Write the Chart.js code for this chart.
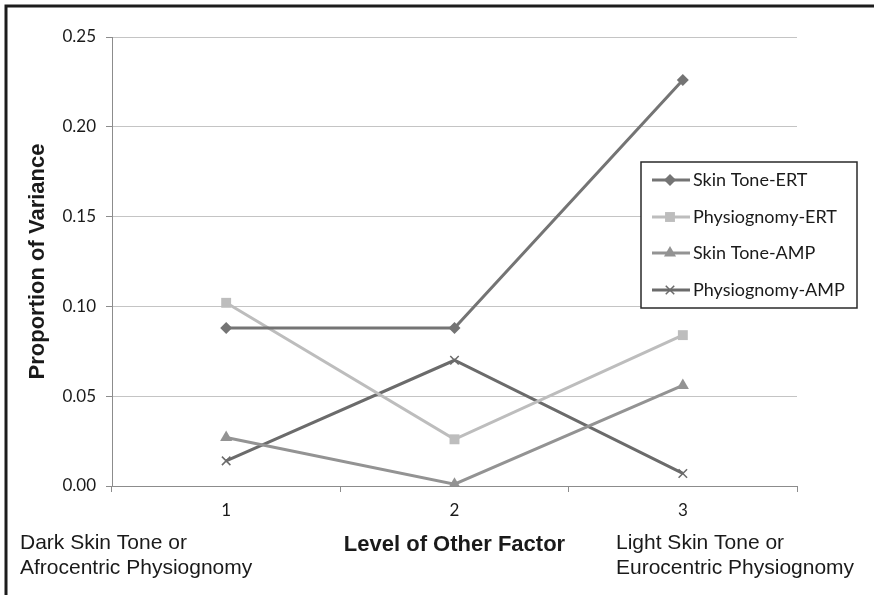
<!DOCTYPE html>
<html>
<head>
<meta charset="utf-8">
<script src="https://cdn.jsdelivr.net/npm/chart.js@4.4.0/dist/chart.umd.min.js"></script>
<style>
  html, body { margin: 0; padding: 0; background: #ffffff; }
  #wrap { width: 874px; height: 595px; position: relative; }
</style>
</head>
<body>
<div id="wrap"><canvas id="chart" width="874" height="595"></canvas></div>
<script>
// Levels of the other factor (x categories)
const levels = ['1', '2', '3'];

// Proportion of variance per series
const seriesNames = ['Skin Tone-ERT', 'Physiognomy-ERT', 'Skin Tone-AMP', 'Physiognomy-AMP'];
const skinToneERT    = [0.088, 0.088, 0.226];
const physiognomyERT = [0.102, 0.026, 0.084];
const skinToneAMP    = [0.027, 0.001, 0.056];
const physiognomyAMP = [0.014, 0.070, 0.007];

// Y axis ticks
const yTicks = [0.00, 0.05, 0.10, 0.15, 0.20, 0.25];

// Axis titles and end-of-scale descriptions
const xTitle = 'Level of Other Factor';
const yTitle = 'Proportion of Variance';
const lowEndLabel  = ['Dark Skin Tone or', 'Afrocentric Physiognomy'];
const highEndLabel = ['Light Skin Tone or', 'Eurocentric Physiognomy'];

const TICK_FONT = "'Lato', 'Open Sans', sans-serif";
const ARIAL = "'Liberation Sans', Arial, sans-serif";

const styles = [
  { color: '#747474', pointStyle: 'rectRot',  radius: 6, borderWidth: 0 },
  { color: '#bdbdbd', pointStyle: 'rect',     radius: 7, borderWidth: 0 },
  { color: '#939393', pointStyle: 'triangle', radius: 7, borderWidth: 0 },
  { color: '#6b6b6b', pointStyle: 'crossRot', radius: 6, borderWidth: 1.5 }
];
const values = [skinToneERT, physiognomyERT, skinToneAMP, physiognomyAMP];

const datasets = seriesNames.map((name, i) => ({
  label: name,
  data: values[i],
  borderColor: styles[i].color,
  backgroundColor: styles[i].color,
  pointBackgroundColor: styles[i].color,
  pointBorderColor: styles[i].color,
  pointStyle: styles[i].pointStyle,
  pointRadius: styles[i].radius,
  pointBorderWidth: styles[i].borderWidth,
  borderWidth: 3,
  tension: 0,
  fill: false
}));

// Outer frame (top and left edge)
const framePlugin = {
  id: 'frame',
  beforeDraw(chart) {
    const ctx = chart.ctx;
    ctx.save();
    ctx.fillStyle = '#ffffff';
    ctx.fillRect(0, 0, chart.width, chart.height);
    ctx.strokeStyle = '#1c1c1c';
    ctx.lineWidth = 3;
    ctx.beginPath();
    ctx.moveTo(6, chart.height);
    ctx.lineTo(6, 6);
    ctx.lineTo(chart.width, 6);
    ctx.stroke();
    ctx.restore();
  }
};

// Boxed legend inside the plot area, with line + marker samples
const boxLegendPlugin = {
  id: 'boxLegend',
  afterDatasetsDraw(chart) {
    const ctx = chart.ctx;
    const box = { x: 641, y: 162, w: 216, h: 146 };
    ctx.save();
    ctx.fillStyle = '#ffffff';
    ctx.fillRect(box.x, box.y, box.w, box.h);
    ctx.strokeStyle = '#2a2a2a';
    ctx.lineWidth = 1.5;
    ctx.strokeRect(box.x, box.y, box.w, box.h);
    const rowY = [180, 217, 253, 290];
    chart.data.datasets.forEach((ds, i) => {
      const y = rowY[i];
      ctx.strokeStyle = ds.borderColor;
      ctx.lineWidth = 3;
      ctx.beginPath();
      ctx.moveTo(652, y);
      ctx.lineTo(690, y);
      ctx.stroke();
      ctx.fillStyle = ds.pointBackgroundColor;
      ctx.strokeStyle = ds.pointBorderColor;
      ctx.lineWidth = ds.pointBorderWidth;
      Chart.helpers.drawPoint(ctx, {
        pointStyle: ds.pointStyle,
        radius: ds.pointRadius,
        rotation: 0,
        borderWidth: ds.pointBorderWidth
      }, 670, y);
      ctx.fillStyle = '#1a1a1a';
      ctx.font = "18px " + TICK_FONT;
      ctx.textAlign = 'left';
      ctx.textBaseline = 'middle';
      ctx.fillText(ds.label, 693, y);
    });
    ctx.restore();
  }
};

// Descriptions under the first and last level
const endLabelsPlugin = {
  id: 'endLabels',
  afterDraw(chart) {
    const ctx = chart.ctx;
    ctx.save();
    ctx.fillStyle = '#1a1a1a';
    ctx.font = "21px " + ARIAL;
    ctx.textAlign = 'left';
    ctx.textBaseline = 'middle';
    lowEndLabel.forEach((t, k) => ctx.fillText(t, 20, 543 + k * 25));
    highEndLabel.forEach((t, k) => ctx.fillText(t, 616, 543 + k * 25));
    ctx.restore();
  }
};

new Chart(document.getElementById('chart'), {
  type: 'line',
  data: { labels: levels, datasets },
  plugins: [framePlugin, boxLegendPlugin, endLabelsPlugin],
  options: {
    responsive: false,
    animation: false,
    devicePixelRatio: 1,
    layout: { padding: { left: 0, right: 77, top: 37, bottom: 0 } },
    plugins: { legend: { display: false }, tooltip: { enabled: false } },
    scales: {
      x: {
        type: 'category',
        offset: true,
        afterFit(scale) { scale.height = 109; },
        grid: {
          offset: true,
          drawOnChartArea: false,
          drawTicks: true,
          tickLength: 6,
          color: '#8c8c8c',
          lineWidth: 1
        },
        border: { display: true, color: '#8c8c8c', width: 1 },
        ticks: {
          padding: 8,
          color: '#1a1a1a',
          font: { family: TICK_FONT, size: 17 },
          maxRotation: 0
        },
        title: {
          display: true,
          text: xTitle,
          color: '#1a1a1a',
          font: { family: ARIAL, size: 22, weight: 'bold' },
          padding: { top: 0, bottom: 37 }
        }
      },
      y: {
        min: 0,
        max: 0.25,
        afterFit(scale) { scale.width = 112; },
        afterBuildTicks(scale) { scale.ticks = yTicks.map(v => ({ value: v })); },
        grid: {
          color: '#c4c4c4',
          lineWidth: 1,
          drawTicks: true,
          tickLength: 6,
          tickColor: '#8c8c8c'
        },
        border: { display: true, color: '#8c8c8c', width: 1 },
        ticks: {
          padding: 10,
          color: '#1a1a1a',
          font: { family: TICK_FONT, size: 17 },
          callback: v => Number(v).toFixed(2)
        },
        title: {
          display: true,
          text: yTitle,
          color: '#1a1a1a',
          font: { family: ARIAL, size: 22, weight: 'bold' },
          padding: { top: 25, bottom: 0 }
        }
      }
    }
  }
});
</script>
</body>
</html>
